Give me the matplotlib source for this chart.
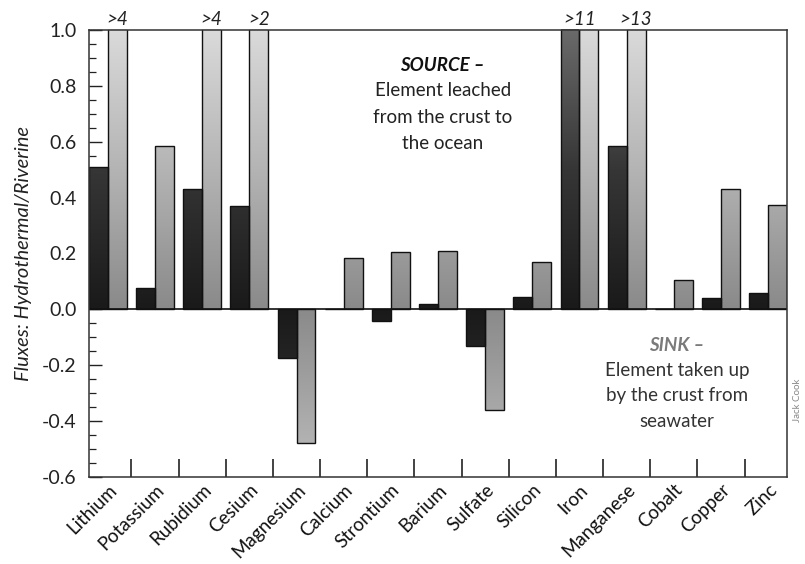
import numpy as np
import matplotlib
matplotlib.use("Agg")
import matplotlib.pyplot as plt
from matplotlib.ticker import MultipleLocator
from matplotlib.colors import LinearSegmentedColormap

plt.rcParams['font.family'] = ['Lato', 'DejaVu Sans']

elements = ["Lithium", "Potassium", "Rubidium", "Cesium", "Magnesium", "Calcium",
            "Strontium", "Barium", "Sulfate", "Silicon", "Iron", "Manganese",
            "Cobalt", "Copper", "Zinc"]
# dark bars (first series) and light bars (second series); values > 1 run off the top
series_dark = [0.51, 0.075, 0.43, 0.37, -0.175, 0.0, -0.04, 0.02, -0.13, 0.043,
               11.0, 0.585, 0.0, 0.04, 0.057]
series_light = [4.0, 0.585, 4.0, 2.0, -0.48, 0.183, 0.205, 0.21, -0.36, 0.168,
                11.0, 13.0, 0.104, 0.43, 0.373]
# off-scale labels
offscale_idx = [0, 2, 3, 10, 11]
offscale_pos = [0.2, 0.2, 0.2, 0.0, 0.2]
offscale_txt = [">4", ">4", ">2", ">11", ">13"]

source_lines = ["Element leached", "from the crust to", "the ocean"]
sink_lines = ["Element taken up", "by the crust from", "seawater"]

fig = plt.figure(figsize=(8.05, 5.64), dpi=100)
ax = fig.add_axes([89/805, 1-477/564, 698/805, 447/564])

x = np.arange(len(elements))
w = 0.4
YMIN, YMAX = -0.6, 1.0

cm_dark = LinearSegmentedColormap.from_list("d", ["#1a1a1a", "#363636", "#6a6a6a"])
cm_light = LinearSegmentedColormap.from_list("l", ["#8a8a8a", "#b4b4b4", "#dadada"])

def draw(vals, offset, cmap):
    bars = ax.bar(x + offset, vals, width=w, facecolor='none',
                  edgecolor='#111111', linewidth=1.0, zorder=3)
    for b, v in zip(bars, vals):
        if v == 0:
            continue
        x0 = b.get_x()
        x1 = x0 + b.get_width()
        vv = max(min(v, YMAX), YMIN)
        top = abs(vv)
        grad = np.linspace(top, 0.0, 200).reshape(-1, 1)  # row 0 = far end
        if vv < 0:
            grad = grad[::-1]
            ext = [x0, x1, vv, 0.0]
        else:
            ext = [x0, x1, 0.0, vv]
        im = ax.imshow(grad, extent=ext, cmap=cmap, vmin=0, vmax=1.0, origin='upper',
                       aspect='auto', zorder=2, interpolation='bilinear')
        im.set_clip_path(b)

draw(series_dark, -w/2, cm_dark)
draw(series_light, w/2, cm_light)

ax.axhline(0, color='#111111', linewidth=1.2, zorder=4)

ax.set_xlim(-0.4, 14.4)
ax.set_ylim(YMIN, YMAX)

# y ticks
yt = np.round(np.arange(-0.6, 1.01, 0.2), 1)
ax.set_yticks(yt)
ax.set_yticklabels([f"{v:.1f}" for v in yt])
ax.yaxis.set_minor_locator(MultipleLocator(0.05))
ax.tick_params(axis='y', which='major', direction='in', length=9, width=1.0,
               labelsize=14, pad=9, colors='#222222')
ax.tick_params(axis='y', which='minor', direction='in', length=5, width=0.9,
               colors='#222222')

# x ticks: boundaries as marks, labels at centers
ax.set_xticks(np.arange(0.5, 14, 1.0))
ax.set_xticklabels([])
ax.tick_params(axis='x', which='major', direction='in', length=13, width=1.2,
               colors='#222222')
ax.set_xticks(x, minor=True)
ax.set_xticklabels(elements, minor=True, rotation=45, ha='right', va='top',
                   rotation_mode='anchor', fontsize=13.5, color='#111111')
ax.tick_params(axis='x', which='minor', length=0, pad=3)

for s in ax.spines.values():
    s.set_color('#333333')
    s.set_linewidth(1.1)
    s.set_zorder(5)

ax.set_ylabel("Fluxes: Hydrothermal/Riverine", fontsize=14.5, style='italic',
              color='#222222')
ax.yaxis.set_label_coords(-0.082, 0.5)

for i, off, t in zip(offscale_idx, offscale_pos, offscale_txt):
    ax.text(x[i] + off, 1.006, t, ha='center', va='bottom', fontsize=13.5,
            style='italic', color='#222222', clip_on=False)

ax.text(7.1, 0.872, "SOURCE \u2013", ha='center', va='center', fontsize=13.5,
        fontweight='bold', style='italic', color='#111111')
for k, line in enumerate(source_lines):
    ax.text(7.1, 0.782 - 0.095 * k, line, ha='center', va='center', fontsize=13.5,
            color='#222222')

ax.text(12.07, -0.128, "SINK \u2013", ha='center', va='center', fontsize=13.5,
        fontweight='bold', style='italic', color='#7a7a7a')
for k, line in enumerate(sink_lines):
    ax.text(12.07, -0.218 - 0.092 * k, line, ha='center', va='center', fontsize=13.5,
            color='#333333')

fig.text(797/805, 1-400/564, "Jack Cook", rotation=90, ha='center', va='center',
         fontsize=7, color='#888888')

fig.savefig("out.png", dpi=100)
